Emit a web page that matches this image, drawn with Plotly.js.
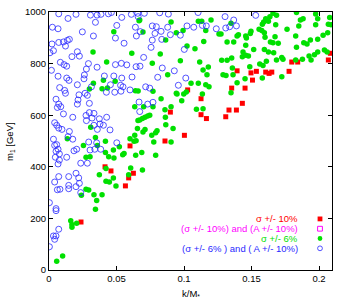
<!DOCTYPE html>
<html>
<head>
<meta charset="utf-8">
<script src="https://cdn.plot.ly/plotly-3.0.1.min.js"></script>
<style>html,body{margin:0;padding:0;background:#fff;}</style>
</head>
<body>
<div id="chart" style="width:350px;height:300px;"></div>
<script>
// ---- data (k/M, m1 [GeV]) ----
const redX = [0.0237,0.0415,0.0459,0.0600,0.0625,0.0590,0.0566,0.0859,0.0899,0.1003,0.1027,0.1126,0.1166,0.1126,0.1309,0.1333,0.1388,0.1353,0.1393,0.1432,0.1452,0.1496,0.1507,0.1536,0.1605,0.1630,0.1650,0.1778,0.1798,0.1842,0.2069,0.2084];
const redY = [186,400,384,481,375,357,326,500,612,522,698,664,587,602,594,620,620,705,772,646,705,764,736,770,767,762,767,770,806,806,814,840];

const magX = [];
const magY = [];

const greenX = [0.0667,0.0480,0.0326,0.0427,0.0613,0.0403,0.0490,0.0329,0.0299,0.0393,0.0433,0.0640,0.0660,
 0.0635,0.0659,0.0309,0.0136,0.0344,0.0358,0.0255,0.0418,0.0477,0.0521,0.0556,0.0546,0.0600,0.0630,0.0645,0.0655,0.0635,0.0418,0.0274,0.0304,0.0442,0.0481,0.0422,0.0373,0.0477,0.0605,0.0590,
 0.0422,0.0447,0.0496,0.0240,0.0274,0.0294,0.0333,0.0353,0.0393,0.0344,0.0161,0.0170,0.0170,0.0205,0.0101,0.0057,
 0.0672,0.0696,0.0904,0.0943,0.0993,0.1106,0.1131,0.1161,0.1200,0.1259,0.1274,0.1319,0.1368,0.0864,0.1022,0.1081,0.1146,0.0824,0.1116,0.0973,0.1279,0.1319,0.1353,0.1180,0.0765,0.1141,0.1170,0.0879,0.1289,0.1311,0.1052,0.1106,0.1161,0.1185,0.1363,0.0770,0.0943,0.0983,0.0830,0.0904,
 0.0770,0.0701,0.0859,0.0731,0.0711,0.0692,0.0672,0.0746,0.0862,0.0865,0.0919,0.0711,0.0696,0.0800,0.0790,0.0761,0.0776,0.0904,0.1136,0.1092,0.1141,0.0998,0.1017,0.0948,
 0.0642,0.0687,0.0790,0.0692,
 0.1659,0.1605,0.1636,0.1685,0.1580,0.1590,0.1625,0.1833,0.1975,0.2079,0.1862,0.1882,0.1990,0.2069,0.2089,0.1679,0.1850,0.1975,0.1556,0.1576,0.1595,0.1600,0.1496,0.1491,0.1403,0.1393,0.1457,0.1462,0.1457,0.1763,0.1827,0.1674,0.1640,0.1659,0.1698,0.1887,0.1911,0.1936,0.1990,0.2030,0.2064,0.1833,0.1516,0.1595,0.1625,0.1664,0.1437,0.1432,0.1457,0.1477,0.2040,0.2060,0.1990,0.1966,0.1926,0.1724,0.1733,0.1685,0.1877,0.1827,0.1941,0.1610,0.1561,0.1585,0.1487,0.1358,0.1580,0.1452,0.1724,0.1393,0.1348,0.1348];
const greenY = [966,923,845,806,840,735,732,724,702,703,705,695,694,
 633,579,553,509,514,483,483,499,465,478,452,447,509,499,501,548,522,455,437,439,439,434,393,369,357,395,369,
 344,341,326,290,313,310,292,269,292,235,191,176,166,181,54,34,
 969,922,961,920,928,964,964,928,969,915,915,884,884,891,868,858,886,837,806,811,813,813,822,787,801,775,757,757,757,754,724,724,718,710,757,693,685,656,664,633,
 633,633,621,597,592,587,581,600,592,563,548,545,535,540,532,522,496,496,682,623,625,682,690,682,
 445,455,445,388,
 995,974,982,987,953,961,964,998,992,979,969,974,974,953,951,951,946,951,933,928,920,902,925,917,912,907,907,899,871,933,907,904,884,881,879,881,876,891,894,910,920,863,855,855,845,842,845,827,832,829,853,845,845,834,829,824,817,814,817,814,814,809,798,793,788,783,744,741,749,726,687,956];

const blueX = [0.0072,0.0141,0.0200,0.0307,0.0356,0.0385,0.0440,0.0462,0.0539,0.0610,0.0660,0.0344,0.0502,0.0640,0.0025,0.0067,0.0247,0.0329,0.0492,0.0647,0.0556,0.0022,0.0072,0.0107,0.0136,0.0151,0.0122,0.0210,0.0225,0.0170,0.0007,0.0033,0.0084,0.0111,0.0131,0.0292,0.0277,0.0356,0.0492,0.0536,0.0576,0.0645,0.0018,0.0067,0.0131,0.0148,0.0262,0.0259,0.0410,0.0480,0.0539,0.0615,0.0210,0.0314,0.0455,0.0530,0.0548,0.0079,0.0116,0.0122,0.0222,0.0267,0.0284,0.0425,0.0487,0.0533,0.0600,
 0.0052,0.0072,0.0087,0.0062,0.0215,0.0210,0.0299,0.0107,0.0176,0.0274,0.0299,0.0333,0.0277,0.0319,0.0373,0.0427,0.0378,0.0333,0.0403,0.0452,0.0358,0.0042,0.0057,0.0072,0.0096,0.0151,0.0141,0.0176,0.0033,0.0042,0.0057,0.0067,0.0052,0.0077,0.0047,0.0077,0.0067,0.0131,0.0185,0.0205,0.0294,0.0304,0.0339,0.0353,0.0383,0.0502,0.0235,0.0284,0.0072,0.0146,0.0200,0.0220,
 0.0042,0.0062,0.0081,0.0146,0.0146,0.0200,0.0225,0.0235,0.0003,0.0052,0.0052,0.0072,0.0033,0.0052,0.0042,0.0003,
 0.0657,0.0706,0.0820,0.0884,0.1104,0.1304,0.1368,0.0765,0.0795,0.0830,0.0785,0.0879,0.0899,0.0973,0.1022,0.1072,0.1136,0.1165,0.1239,0.1309,0.1338,0.0676,0.0765,0.0835,0.0756,0.1002,0.0701,0.0674,0.0839,0.0928,0.0805,0.1013,0.0716,0.0746,0.0958,0.0667,0.0731,
 0.0770,0.0672,0.1388,0.1531];
const blueY = [993,975,991,988,988,991,993,998,979,991,982,960,948,941,941,935,923,907,899,907,879,876,882,884,890,894,868,846,829,827,842,850,805,796,790,800,779,786,796,801,795,788,774,751,744,735,756,741,752,752,744,748,718,710,718,716,710,707,696,685,679,685,677,689,689,693,698,
 662,643,633,630,659,643,646,605,592,599,610,607,579,589,586,592,566,561,561,543,545,571,561,550,545,537,517,507,507,483,486,468,460,450,437,426,411,437,462,468,496,465,468,493,468,493,414,414,362,362,375,357,
 341,311,313,328,315,323,336,300,261,238,230,158,132,132,119,90,
 995,995,997,992,998,982,969,946,943,925,917,941,912,910,946,941,948,946,935,938,943,924,891,894,863,855,824,790,783,772,747,744,710,705,716,651,643,
 650,614,946,987];

const xTickVals = [0, 0.05, 0.1, 0.15, 0.2];
const xTickText = ['0', '0.05', '0.1', '0.15', '0.2'];
const yTickVals = [0, 200, 400, 600, 800, 1000];
const yTickText = ['0', '200', '400', '600', '800', '1000'];
const xTitle = 'k/M<sub>*</sub>';
const yTitle = 'm<sub>1</sub> [GeV]';

const legendLabels = ['\u03c3 +/- 10%', '(\u03c3 +/- 10%) and (A +/- 10%)', '\u03c3 +/- 6%', '(\u03c3 +/- 6% ) and ( A +/- 10%)'];
const colRed = '#ff0000', colMag = '#ff00ff', colGreen = '#00e000', colBlue = '#2a2aff';
const legendColors = [colRed, colMag, colGreen, colBlue];

const FONT = 'Liberation Sans, Arial, Helvetica, sans-serif';

const traces = [
  {x: redX, y: redY, type: 'scatter', mode: 'markers', name: legendLabels[0],
   marker: {symbol: 'square', size: 5, color: colRed}},
  {x: magX, y: magY, type: 'scatter', mode: 'markers', name: legendLabels[1],
   marker: {symbol: 'square-open', size: 5, color: colMag, line: {width: 1}}},
  {x: greenX, y: greenY, type: 'scatter', mode: 'markers', name: legendLabels[2],
   marker: {symbol: 'circle', size: 5.5, color: colGreen}},
  {x: blueX, y: blueY, type: 'scatter', mode: 'markers', name: legendLabels[3],
   marker: {symbol: 'circle-open', size: 6, color: colBlue, line: {width: 0.8}}}
];

// legend drawn gnuplot-style: right-aligned coloured text, symbol on the right
const rowsY = [0.198, 0.160, 0.122, 0.084];
const annotations = legendLabels.map((t, i) => ({
  text: t, xref: 'paper', yref: 'paper', x: 0.887, y: rowsY[i],
  xanchor: 'right', yanchor: 'middle', showarrow: false,
  font: {family: FONT, size: 9.5, color: legendColors[i]}
}));
// axis titles
annotations.push({text: xTitle, xref: 'paper', yref: 'paper', x: 0.5, y: -0.093,
  xanchor: 'center', yanchor: 'middle', showarrow: false, font: {family: FONT, size: 9.5, color: '#000'}});
annotations.push({text: yTitle, xref: 'paper', yref: 'paper', x: -0.138, y: 0.5, textangle: -90,
  xanchor: 'center', yanchor: 'middle', showarrow: false, font: {family: FONT, size: 9.5, color: '#000'}});

const sx = 0.9576, hw = 2.4 / 283, hh = 2.4 / 258;
const shapes = [
  {type: 'rect', xref: 'paper', yref: 'paper', x0: sx - hw, x1: sx + hw, y0: rowsY[0] - hh, y1: rowsY[0] + hh,
   fillcolor: colRed, line: {width: 0}},
  {type: 'rect', xref: 'paper', yref: 'paper', x0: sx - hw, x1: sx + hw, y0: rowsY[1] - hh, y1: rowsY[1] + hh,
   fillcolor: 'rgba(0,0,0,0)', line: {width: 1, color: colMag}},
  {type: 'circle', xref: 'paper', yref: 'paper', x0: sx - hw, x1: sx + hw, y0: rowsY[2] - hh, y1: rowsY[2] + hh,
   fillcolor: colGreen, line: {width: 0}},
  {type: 'circle', xref: 'paper', yref: 'paper', x0: sx - hw, x1: sx + hw, y0: rowsY[3] - hh, y1: rowsY[3] + hh,
   fillcolor: 'rgba(0,0,0,0)', line: {width: 0.8, color: colBlue}}
];

const axisCommon = {
  ticks: 'inside', ticklen: 4, tickwidth: 1, tickcolor: '#000',
  mirror: 'allticks', showline: true, linecolor: '#000', linewidth: 1,
  showgrid: false, zeroline: false, fixedrange: true,
  tickfont: {family: FONT, size: 9.5, color: '#000'}
};

const layout = {
  width: 350, height: 300,
  margin: {l: 49, r: 18, t: 12, b: 30, pad: 0},
  paper_bgcolor: '#fff', plot_bgcolor: '#fff',
  showlegend: false,
  font: {family: FONT, size: 9.5, color: '#000'},
  xaxis: Object.assign({}, axisCommon, {
    range: [0, 0.2096], tickmode: 'array', tickvals: xTickVals, ticktext: xTickText
  }),
  yaxis: Object.assign({}, axisCommon, {
    range: [0, 1000], tickmode: 'array', tickvals: yTickVals, ticktext: yTickText
  }),
  annotations: annotations,
  shapes: shapes
};

Plotly.newPlot('chart', traces, layout, {staticPlot: true, displayModeBar: false});
</script>
</body>
</html>
